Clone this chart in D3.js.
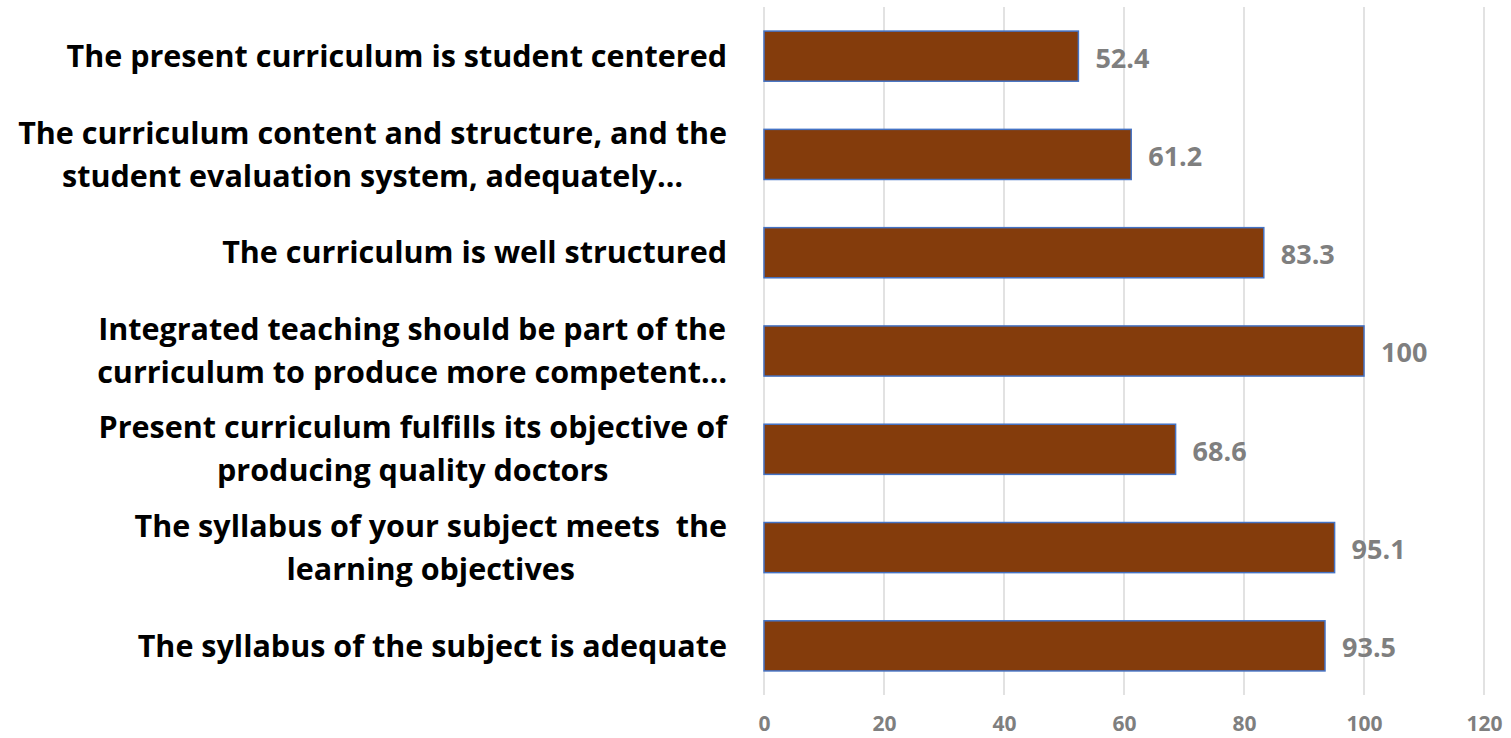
<!DOCTYPE html>
<html>
<head>
<meta charset="utf-8">
<script src="https://cdn.jsdelivr.net/npm/d3@7"></script>
<style>
  body { margin: 0; background: #fff; }
  svg { display: block; }
  text { font-family: "Open Sans", "Noto Sans", sans-serif; font-weight: bold; white-space: pre; }
</style>
</head>
<body>
<div id="chart"></div>
<script>
// categories, top to bottom
var categories = [
    ["The present curriculum is student centered"],
    ["The curriculum content and structure, and the", "student evaluation system, adequately\u2026"],
    ["The curriculum is well structured"],
    ["Integrated teaching should be part of the", "curriculum to produce more competent\u2026"],
    ["Present curriculum fulfills its objective of", "producing quality doctors"],
    ["The syllabus of your subject meets  the", "learning objectives"],
    ["The syllabus of the subject is adequate"]
];
var values = [52.4, 61.2, 83.3, 100, 68.6, 95.1, 93.5];
var ticks = [0, 20, 40, 60, 80, 100, 120];

var width = 1511, height = 738;
var margin = {top: 7, right: 27, bottom: 43, left: 764};

var svg = d3.select("#chart")
    .append("svg")
    .attr("width", width)
    .attr("height", height);

var x = d3.scaleLinear()
    .domain([0, 120])
    .range([margin.left, margin.left + 720]);

var y = d3.scaleBand()
    .domain(d3.range(values.length))
    .range([margin.top, height - margin.bottom])
    .paddingInner(0.49)
    .paddingOuter(0.245);

// gridlines
svg.append("g")
    .selectAll("line")
    .data(ticks)
    .enter()
    .append("line")
    .attr("x1", function(d){ return x(d); })
    .attr("x2", function(d){ return x(d); })
    .attr("y1", margin.top)
    .attr("y2", height - margin.bottom)
    .style("stroke", "#d9d9d9")
    .style("stroke-width", 1.5);

// tick labels
var xAxis = d3.axisBottom(x).tickValues(ticks).tickSize(0).tickPadding(0);
var gx = svg.append("g")
    .attr("transform", "translate(0,724)")
    .call(xAxis);
gx.select(".domain").remove();
gx.selectAll("text")
    .attr("dy", "0.35em")
    .attr("fill", "#7f7f7f")
    .style("font-size", "21px");

// bars
svg.selectAll("rect.bar")
    .data(values)
    .enter()
    .append("rect")
    .attr("class", "bar")
    .attr("x", x(0))
    .attr("y", function(d, i){ return y(i); })
    .attr("width", function(d){ return x(d) - x(0); })
    .attr("height", y.bandwidth())
    .style("fill", "#843c0c")
    .style("stroke", "#4472c4")
    .style("stroke-width", 1.5);

// value labels
svg.selectAll("text.value")
    .data(values)
    .enter()
    .append("text")
    .attr("class", "value")
    .attr("x", function(d){ return x(d) + 17; })
    .attr("y", function(d, i){ return y(i) + y.bandwidth() / 2 + 2; })
    .attr("dy", "0.35em")
    .attr("fill", "#7f7f7f")
    .style("font-size", "27px")
    .text(function(d){ return d; });

// category labels: lines centred on each other, block right edge at 727
var labelRight = 727, lineGap = 43;
categories.forEach(function(lines, i){
    var g = svg.append("g");
    var cy = y(i) + y.bandwidth() / 2;
    var texts = lines.map(function(line, j){
        return g.append("text")
            .attr("y", cy + (j - (lines.length - 1) / 2) * lineGap)
            .attr("dy", "0.35em")
            .attr("text-anchor", "middle")
            .attr("fill", "#000")
            .style("font-size", "30.5px")
            .text(line);
    });
    var maxW = d3.max(texts, function(t){ return t.node().getComputedTextLength(); });
    texts.forEach(function(t){ t.attr("x", labelRight - maxW / 2); });
});
</script>
</body>
</html>
